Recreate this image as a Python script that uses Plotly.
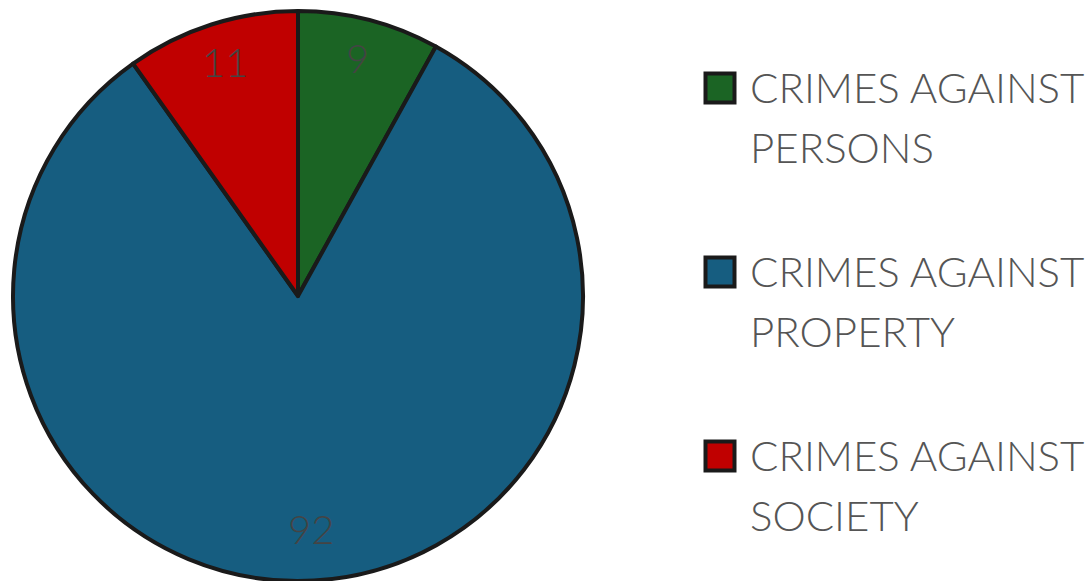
import math
import plotly.graph_objects as go

categories = ["CRIMES AGAINST<br>PERSONS", "CRIMES AGAINST<br>PROPERTY", "CRIMES AGAINST<br>SOCIETY"]
values = [9, 92, 11]
colors = ["#1b6424", "#165d80", "#c00000"]

W, H = 1090, 581
FONT = "Lato"
TEXT_GRAY = "#555555"

# pie placement (paper fractions)
dom_x = [11 / W, 585 / W]
dom_y = [0.0, 0.981]

fig = go.Figure()

fig.add_trace(go.Pie(
    labels=categories,
    values=values,
    sort=False,
    direction="clockwise",
    rotation=0,
    marker=dict(colors=colors, line=dict(color="#1a1a1a", width=4)),
    textinfo="none",
    showlegend=False,
    hoverinfo="label+value",
    domain=dict(x=dom_x, y=dom_y),
))

# value labels inside slices, placed at each slice's mid-angle
cx = (dom_x[0] + dom_x[1]) / 2 * W
cy = H - (dom_y[0] + dom_y[1]) / 2 * H
R = min((dom_x[1] - dom_x[0]) * W, (dom_y[1] - dom_y[0]) * H) / 2
total = sum(values)
cum = 0
for v in values:
    mid = (cum + v / 2) / total * 2 * math.pi
    cum += v
    r = 0.84 * R
    fig.add_annotation(
        x=cx + r * math.sin(mid), y=cy - r * math.cos(mid) - 6, xref="x", yref="y",
        text=str(v), showarrow=False, xanchor="center", yanchor="middle",
        font=dict(family=FONT, size=40, color="#444444", weight=300),
    )

# custom legend: square swatches drawn by a scatter trace in a pixel-like axis space
legend_x = 720
legend_y0 = 88
legend_step = 184
ys = [legend_y0 + i * legend_step for i in range(len(categories))]
fig.add_trace(go.Scatter(
    x=[legend_x] * len(categories),
    y=ys,
    mode="markers",
    marker=dict(symbol="square", size=29, color=colors, line=dict(color="#1a1a1a", width=4)),
    showlegend=False,
    hoverinfo="skip",
))

line_gap = 60
for y, cat in zip(ys, categories):
    for j, part in enumerate(cat.split("<br>")):
        fig.add_annotation(
            x=748, y=y - 1 + j * line_gap, xref="x", yref="y",
            text=part, showarrow=False, xanchor="left", yanchor="middle",
            font=dict(family=FONT, size=42, color=TEXT_GRAY, weight=300),
        )

fig.update_layout(
    width=W, height=H,
    margin=dict(l=0, r=0, t=0, b=0),
    paper_bgcolor="white", plot_bgcolor="white",
    xaxis=dict(range=[0, W], visible=False, domain=[0, 1], fixedrange=True),
    yaxis=dict(range=[H, 0], visible=False, domain=[0, 1], fixedrange=True),
)

fig.write_html(
    "out.html",
    config={"displayModeBar": False},
    post_script="document.body.style.margin='0';document.body.style.overflow='hidden';",
)
